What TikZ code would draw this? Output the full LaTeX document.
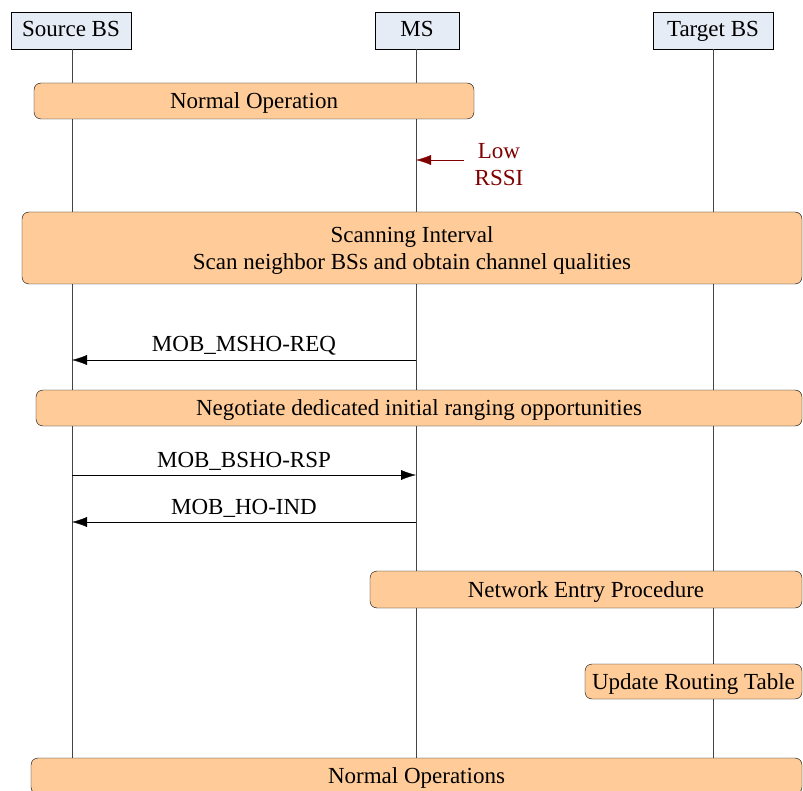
\documentclass[tikz,border=0pt]{standalone}
\usepackage{fontspec}
\setmainfont{Liberation Serif}
\usetikzlibrary{positioning,arrows.meta}
\definecolor{mHeadBg}{HTML}{E6ECF5}
\definecolor{mPhase}{HTML}{FFCC99}
\definecolor{mLife}{HTML}{444444}
\definecolor{mRssi}{HTML}{800000}

\begin{document}
\begin{tikzpicture}[x=1pt, y=-1pt, font=\fontsize{23}{27}\selectfont,
  head/.style={draw=black, fill=mHeadBg, minimum height=37pt, inner sep=0pt, text height=16pt, text depth=4pt},
  phase/.style={draw=black, fill=mPhase, rounded corners=7pt, inner sep=0pt, align=center, text depth=0pt},
  msg/.style={-{Latex[length=15pt,width=10pt]}, black},
  life/.style={draw=mLife}]
\useasboundingbox (0,0) rectangle (803,791);
\clip (0,0) rectangle (803,791);

% entities
\node[head, minimum width=120pt] (src) at (71,30.5) {Source BS};
\node[head, minimum width=84pt] (ms) at (417,30.5) {MS};
\node[head, minimum width=120pt] (tgt) at (713,30.5) {Target BS};

% lifelines
\coordinate (srcEnd) at (72,770);
\coordinate (msEnd) at (416,770);
\coordinate (tgtEnd) at (713,770);
\draw[life] (src.south -| srcEnd) -- (srcEnd);
\draw[life] (ms.south -| msEnd) -- (msEnd);
\draw[life] (tgt.south) -- (tgtEnd);

% phases
\node[phase, minimum width=440pt, minimum height=36pt] (normal) at (254,101) {Normal Operation};
\node[phase, minimum width=780pt, minimum height=72pt] (scan) at (412,248) {Scanning Interval\\Scan neighbor BSs and obtain channel qualities};
\node[phase, minimum width=766pt, minimum height=36pt] (nego) at (419,408) {Negotiate dedicated initial ranging opportunities};
\node[phase, minimum width=432pt, minimum height=37pt] (entry) at (586,589.5) {Network Entry Procedure};
\node[phase, minimum width=217pt, minimum height=35pt] (route) at (693.5,681.5) {Update Routing Table};
\node[phase, minimum width=771pt, minimum height=36pt] (normal2) at (416.5,776) {Normal Operations};

% trigger
\coordinate (rssiT) at (464,160);
\coordinate (rssiM) at (416,160);
\draw[msg, mRssi] (rssiT) -- (rssiM);
\node[text=mRssi, align=center] (rssi) at (499,165) {Low\\RSSI};

% messages
\coordinate (reqM) at (416,360); \coordinate (reqS) at (72,360);
\draw[msg] (reqM) -- node[above=1pt] {MOB\_MSHO-REQ} (reqS);
\coordinate (rspS) at (72,475); \coordinate (rspM) at (416,475);
\draw[msg] (rspS) -- node[above=1pt] {MOB\_BSHO-RSP} (rspM);
\coordinate (indM) at (416,522); \coordinate (indS) at (72,522);
\draw[msg] (indM) -- node[above=1pt] {MOB\_HO-IND} (indS);
\end{tikzpicture}
\end{document}
